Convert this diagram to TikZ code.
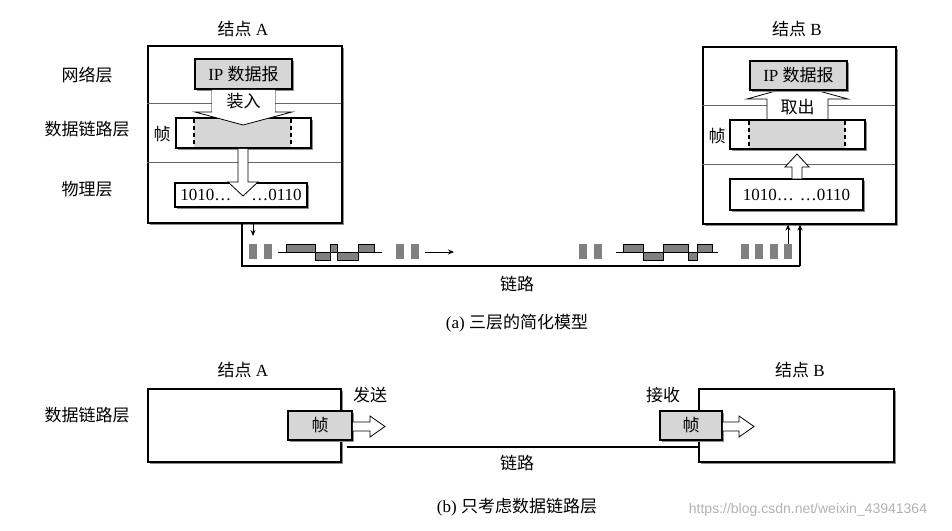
\documentclass[tikz,border=0pt]{standalone}
\usepackage{fontspec}
\setmainfont{Liberation Serif}
\newfontfamily\cjk{Noto Sans CJK SC}
\newfontfamily\wmfont{Liberation Sans}
\usetikzlibrary{shadows,arrows.meta}
\begin{document}
\begin{tikzpicture}[x=1pt,y=-1pt,
  font=\fontsize{17}{19}\selectfont,
  nodebox/.style={draw, line width=1.5pt, fill=white, anchor=north west, inner sep=0pt,
    drop shadow={shadow xshift=2.5pt, shadow yshift=-2.5pt, fill=black!45, opacity=1}},
  ipbox/.style={draw, line width=1.5pt, fill=black!16, inner sep=0pt,
    drop shadow={shadow xshift=2pt, shadow yshift=-2pt, fill=black!45, opacity=1}},
  framebox/.style={draw, line width=1.5pt, fill=white, inner sep=0pt,
    drop shadow={shadow xshift=2pt, shadow yshift=-2pt, fill=black!45, opacity=1}},
  layerline/.style={draw=black!60, line width=0.8pt},
  hollow/.style={draw, line width=0.8pt, fill=white},
  bitsq/.style={fill=black!50},
  pulse/.style={draw, line width=0.8pt, fill=black!50},
  thinline/.style={line width=0.8pt},
  linkline/.style={line width=2pt},
  tip/.style={-{Stealth[length=6pt,width=5pt]}},
  lbl/.style={inner sep=0pt}
]
\useasboundingbox (0,0) rectangle (952,530);

% ---------------- (a) ----------------
\node[lbl] (tA) at (243,29) {{\cjk 结点} A};
\node[lbl] (tB) at (797,29) {{\cjk 结点} B};
\node[lbl] (l1) at (87,75) {\cjk 网络层};
\node[lbl] (l2) at (87,129) {\cjk 数据链路层};
\node[lbl] (l3) at (87,189) {\cjk 物理层};

\node[nodebox, minimum width=194pt, minimum height=177pt] (A) at (147,45) {};
\node[nodebox, minimum width=193pt, minimum height=177pt] (B) at (702,46) {};
\draw[layerline] (147,103) -- (341,103);
\draw[layerline] (147,162) -- (341,162);
\draw[layerline] (702,105) -- (895,105);
\draw[layerline] (702,164) -- (895,164);

% node A contents
\node[ipbox, minimum width=97pt, minimum height=30pt] (ipA) at (243.5,74) {IP {\cjk 数据报}};
\node[framebox, minimum width=135pt, minimum height=30pt] (frA) at (243.5,133) {};
\fill[black!16] (194,118.8) rectangle (291,147.2);
\draw[line width=1.3pt, dash pattern=on 4pt off 3pt] (194,118.8) -- (194,147.2);
\draw[line width=1.3pt, dash pattern=on 4pt off 3pt] (291,118.8) -- (291,147.2);
\node[lbl] (fA) at (162,134) {\cjk 帧};
\node[framebox, minimum width=132pt, minimum height=24pt] (phA) at (241,195) {1010…\hspace{20pt}…0110};
\draw[hollow] (212,89.8) -- (212,112) -- (195,112) -- (243,125) -- (292,112) -- (275,112) -- (275,89.8);
\fill[white] (212.4,89.8) rectangle (274.6,112.5);
\node[lbl] (zr) at (243.5,101) {\cjk 装入};
\draw[hollow] (238,148.8) -- (238,182) -- (228,182) -- (243,196) -- (258,182) -- (248,182) -- (248,148.8);

% node B contents
\draw[hollow] (767,120) -- (767,99) -- (747,99) -- (797,85) -- (848,99) -- (828,99) -- (828,120);
\node[lbl] (qc) at (797.5,107) {\cjk 取出};
\node[ipbox, minimum width=97pt, minimum height=29pt] (ipB) at (798.5,75.5) {IP {\cjk 数据报}};
\node[framebox, minimum width=135pt, minimum height=29pt] (frB) at (797.5,134.5) {};
\fill[black!16] (749,120.8) rectangle (845,148.2);
\draw[line width=1.3pt, dash pattern=on 4pt off 3pt] (749,120.8) -- (749,148.2);
\draw[line width=1.3pt, dash pattern=on 4pt off 3pt] (845,120.8) -- (845,148.2);
\node[lbl] (fB) at (717,136) {\cjk 帧};
\node[framebox, minimum width=133pt, minimum height=31pt] (phB) at (796.5,194.5) {1010…\hspace{6pt}…0110};
\draw[hollow] (792,178.5) -- (792,167) -- (785,167) -- (797,154) -- (809,167) -- (802,167) -- (802,178.5);

% link
\coordinate (la) at (242,266);
\coordinate (lb) at (800,266);
\draw[linkline] (A.south -| la) -- (la) -- (lb);
\draw[linkline, tip] (lb) -- (B.south -| lb);
\coordinate (sa) at (253,236);
\draw[thinline, tip] (A.south -| sa) -- (sa);
\coordinate (sb) at (788,244);
\draw[thinline, tip] (sb) -- (B.south -| sb);

% bits left
\foreach \x in {249,264,396,411} \fill[bitsq] (\x,244) rectangle ++(8,15);
\draw[thinline] (278,252) -- (382,252);
\draw[pulse] (286,244) rectangle (315,252);
\draw[pulse] (315,252) rectangle (330,260);
\draw[pulse] (330,244) rectangle (337,252);
\draw[pulse] (337,252) rectangle (358,260);
\draw[pulse] (358,244) rectangle (374,252);
\coordinate (ar1) at (425,252);
\coordinate (ar2) at (454,252);
\draw[thinline, tip] (ar1) -- (ar2);

% bits right
\foreach \x in {579,594,741,755,770,784} \fill[bitsq] (\x,244) rectangle ++(8,15);
\draw[thinline] (616,252) -- (718,252);
\draw[pulse] (623,244) rectangle (643,252);
\draw[pulse] (643,252) rectangle (663,260);
\draw[pulse] (663,244) rectangle (688,252);
\draw[pulse] (688,252) rectangle (697,260);
\draw[pulse] (697,244) rectangle (712,252);

\node[lbl] (lkA) at (517,284) {\cjk 链路};
\node[lbl] (capA) at (517,323) {(a) {\cjk 三层的简化模型}};

% ---------------- (b) ----------------
\node[lbl] (tA2) at (243,370) {{\cjk 结点} A};
\node[lbl] (tB2) at (800,370) {{\cjk 结点} B};
\node[lbl] (l4) at (87,415) {\cjk 数据链路层};
\node[nodebox, minimum width=193pt, minimum height=73pt] (A2) at (147,388) {};
\node[nodebox, minimum width=195pt, minimum height=73pt] (B2) at (698,388) {};
\coordinate (y1) at (0,447);
\draw[linkline] ([xshift=5pt]A2.east |- y1) -- (B2.west |- y1);
\node[ipbox, minimum width=64pt, minimum height=29pt] (fa2) at (320,425.5) {\cjk 帧};
\node[ipbox, minimum width=62pt, minimum height=29pt] (fb2) at (691,425.5) {\cjk 帧};
\draw[hollow] (fa2.east |- 0,422) -- (370,422) -- (370,416) -- (385,426.5) -- (370,437) -- (370,431) -- (fa2.east |- 0,431);
\draw[hollow] (fb2.east |- 0,422) -- (739,422) -- (739,416) -- (754,426.5) -- (739,437) -- (739,431) -- (fb2.east |- 0,431);
\node[lbl] (fs) at (370,395) {\cjk 发送};
\node[lbl] (js) at (663,395) {\cjk 接收};
\node[lbl] (lkB) at (517,463) {\cjk 链路};
\node[lbl] (capB) at (517,507) {(b) {\cjk 只考虑数据链路层}};

\node[lbl, font=\wmfont\fontsize{14}{16}\selectfont, text=black!30] (wm) at (808,510) {https://blog.csdn.net/weixin\_43941364};
\end{tikzpicture}
\end{document}
